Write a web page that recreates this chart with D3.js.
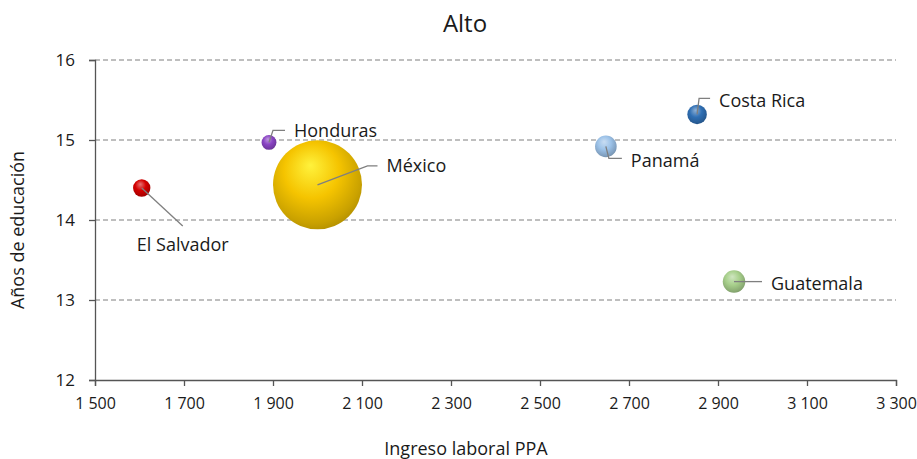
<!DOCTYPE html>
<html>
<head>
<meta charset="utf-8">
<title>Alto</title>
<style>
  body { margin: 0; background: #fff; }
  text { font-family: "Open Sans", "Noto Sans", sans-serif; fill: #1a1a1a; }
</style>
</head>
<body>
<svg id="chart"></svg>
<script src="https://cdn.jsdelivr.net/npm/d3@7"></script>
<script>
// data
var paises   = ["El Salvador", "Honduras", "México", "Panamá", "Costa Rica", "Guatemala"];
var ingreso  = [1605, 1891, 2000, 2648, 2853, 2936];
var anios    = [14.40, 14.97, 14.44, 14.92, 15.32, 13.23];
var tamano   = [3.8, 2.8, 100, 5.9, 4.8, 6.4];
var colores  = ["#d40000", "#8a44c4", "#f5c400", "#9cc2e8", "#2f6fb4", "#a8d08c"];
var xTicks   = [1500, 1700, 1900, 2100, 2300, 2500, 2700, 2900, 3100, 3300];
var yTicks   = [12, 13, 14, 15, 16];

// label leader lines: [dx, dy] points relative to bubble centre, then text anchor spot
var etiquetas = {
  "El Salvador": { pts: [[0, 0], [41, 38]], tx: 41, ty: 57, anchor: "middle" },
  "Honduras":    { pts: [[0, 0], [4, -12], [16, -12]], tx: 25, ty: -12, anchor: "start" },
  "México":      { pts: [[0, 0], [50, -19], [60, -19]], tx: 69, ty: -19, anchor: "start" },
  "Panamá":      { pts: [[0, 0], [3, 12], [16, 12]], tx: 25, ty: 14, anchor: "start" },
  "Costa Rica":  { pts: [[0, 0], [2, -16], [13, -16]], tx: 22, ty: -14, anchor: "start" },
  "Guatemala":   { pts: [[0, 0], [28, 0]], tx: 37, ty: 2, anchor: "start" }
};

var width = 917, height = 459;
var svg = d3.select("#chart").attr("width", width).attr("height", height);

var x = d3.scaleLinear().domain([1500, 3300]).range([95, 896]);
var y = d3.scaleLinear().domain([12, 16]).range([380, 60]);
var r = d3.scaleSqrt().domain([0, 100]).range([0, 44.5]);

// sphere gradients
var defs = svg.append("defs");
colores.forEach(function(c, i) {
  var g = defs.append("radialGradient")
    .attr("id", "esf" + i)
    .attr("cx", "45%").attr("cy", "40%").attr("r", "62%")
    .attr("fx", "42%").attr("fy", "28%");
  var base = d3.color(c);
  var hi = i == 2 ? "#fff23c" : d3.interpolateRgb(c, "#ffffff")(0.45);
  g.append("stop").attr("offset", "0%").attr("stop-color", hi);
  g.append("stop").attr("offset", "50%").attr("stop-color", c);
  g.append("stop").attr("offset", "88%").attr("stop-color", base.darker(0.55));
  g.append("stop").attr("offset", "100%").attr("stop-color", base.darker(0.85));
});

// gridlines
svg.append("g").selectAll("line")
  .data(yTicks.filter(function(d) { return d > 12; }))
  .enter().append("line")
  .attr("x1", x(1500)).attr("x2", x(3300))
  .attr("y1", function(d) { return y(d); }).attr("y2", function(d) { return y(d); })
  .attr("stroke", "#7f7f7f").attr("stroke-width", 1).attr("stroke-dasharray", "5,3");

// axes
var xAxis = svg.append("g").attr("transform", "translate(0," + y(12) + ")")
  .call(d3.axisBottom(x).tickValues(xTicks).tickSize(6).tickPadding(12)
    .tickFormat(function(d) { return d3.format(",")(d).replace(",", " "); }));
var yAxis = svg.append("g").attr("transform", "translate(" + x(1500) + ",0)")
  .call(d3.axisLeft(y).tickValues(yTicks).tickSize(6).tickPadding(14).tickFormat(d3.format("d")));
[xAxis, yAxis].forEach(function(a) {
  a.select(".domain").attr("stroke", "#555").attr("stroke-width", 1.3);
  a.selectAll(".tick line").attr("stroke", "#555").attr("stroke-width", 1.3);
  a.selectAll("text").attr("font-size", 16).attr("fill", "#1a1a1a")
    .style("font-family", "'Open Sans', sans-serif");
});
yAxis.selectAll("text").attr("font-size", 17);

// bubbles, biggest first
var idx = d3.range(paises.length).sort(function(a, b) { return tamano[b] - tamano[a]; });
svg.append("g").selectAll("circle")
  .data(idx).enter().append("circle")
  .attr("cx", function(i) { return x(ingreso[i]); })
  .attr("cy", function(i) { return y(anios[i]); })
  .attr("r", function(i) { return r(tamano[i]); })
  .attr("fill", function(i) { return "url(#esf" + i + ")"; });

// leader lines and labels
var lab = svg.append("g").selectAll("g")
  .data(d3.range(paises.length)).enter().append("g")
  .attr("transform", function(i) { return "translate(" + x(ingreso[i]) + "," + y(anios[i]) + ")"; });
lab.append("polyline")
  .attr("points", function(i) { return etiquetas[paises[i]].pts.map(function(p) { return p.join(","); }).join(" "); })
  .attr("fill", "none").attr("stroke", "#7f7f7f").attr("stroke-width", 1.3);
lab.append("text")
  .attr("x", function(i) { return etiquetas[paises[i]].tx; })
  .attr("y", function(i) { return etiquetas[paises[i]].ty; })
  .attr("dy", "0.35em")
  .attr("text-anchor", function(i) { return etiquetas[paises[i]].anchor; })
  .attr("font-size", 18)
  .text(function(i) { return paises[i]; });

// titles
svg.append("text").attr("x", 465).attr("y", 24).attr("dy", "0.35em")
  .attr("text-anchor", "middle").attr("font-size", 24).text("Alto");
svg.append("text").attr("x", 466).attr("y", 449).attr("dy", "0.35em")
  .attr("text-anchor", "middle").attr("font-size", 18).text("Ingreso laboral PPA");
svg.append("text").attr("transform", "translate(18,230) rotate(-90)").attr("dy", "0.35em")
  .attr("text-anchor", "middle").attr("font-size", 18).text("Años de educación");
</script>
</body>
</html>
